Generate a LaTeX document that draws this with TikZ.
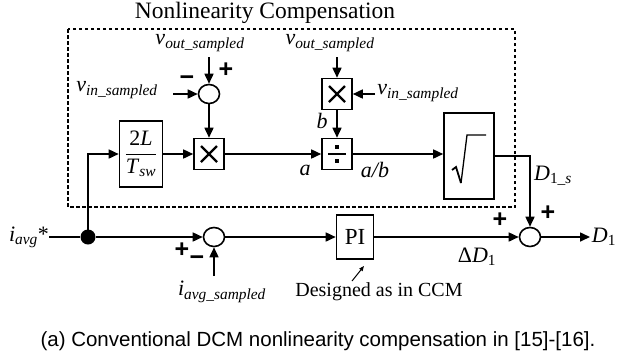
\documentclass[tikz,border=0pt]{standalone}
\usepackage{fontspec}
\setmainfont{Liberation Serif}
\newfontfamily\capfont{Liberation Sans}
\usepackage{amsmath}
\usetikzlibrary{positioning, shapes.geometric, arrows.meta, calc}
\newcommand{\sigsub}[2]{\textit{#1}\textsubscript{\textit{#2}}}
\tikzset{
  >={Triangle[length=10pt,width=9pt]},
  sig/.style={->, line width=1.6pt},
  blk/.style={draw, line width=1.6pt, inner sep=0pt},
  opblk/.style={blk, minimum width=30pt, minimum height=31pt},
  sumnode/.style={draw, ellipse, line width=1.6pt, minimum width=21pt,
                  minimum height=19pt, inner sep=0pt},
  lbl/.style={font=\fontsize{22}{24}\selectfont, inner sep=0pt},
  sgn/.style={font=\capfont\fontsize{25}{25}\selectfont\bfseries, inner sep=0pt},
  mark line/.style={line width=2.2pt},
}
\begin{document}
\begin{tikzpicture}[x=1pt, y=-1pt]
  \useasboundingbox (0,0) rectangle (618,360);
  % compensation frame
  \draw[line width=1.6pt, dash pattern=on 3.5pt off 2.5pt] (68,29) rectangle (515,207);
  \node[lbl, font=\fontsize{23.5}{25}\selectfont, anchor=base] (title) at (265,18) {Nonlinearity Compensation};
  % blocks
  \node[blk, minimum width=43pt, minimum height=66pt, font=\fontsize{22}{24}\selectfont] (gain) at (141,154)
        {$\dfrac{\text{2\textit{L}}}{\text{\textit{T}\textsubscript{\textit{sw}}}}$};
  \node[sumnode] (s1) at (209,94) {};
  \node[opblk] (m1) at (209,154) {};
  \node[opblk] (m2) at (337,94) {};
  \node[opblk] (dv) at (337,154) {};
  \node[blk, minimum width=50pt, minimum height=86pt] (sq) at (469,156) {};
  \node[blk, minimum width=37pt, minimum height=44pt, font=\fontsize{23}{25}\selectfont] (pi) at (355,237) {PI};
  \node[sumnode] (s2) at (214,237) {};
  \node[sumnode] (s3) at (530,237) {};
  \node[circle, fill, minimum size=15pt, inner sep=0pt] (dot) at (88,237) {};
  % operator marks
  \draw[mark line] ($(m1)+(-8,-8)$) -- ($(m1)+(8,8)$) ($(m1)+(-8,8)$) -- ($(m1)+(8,-8)$);
  \draw[mark line] ($(m2)+(-8,-8)$) -- ($(m2)+(8,8)$) ($(m2)+(-8,8)$) -- ($(m2)+(8,-8)$);
  \draw[mark line] ($(dv)+(-9,0)$) -- ($(dv)+(9,0)$);
  \fill ($(dv)+(-2.2,-9)$) rectangle ($(dv)+(2.2,-4.6)$);
  \fill ($(dv)+(-2.2,4.6)$) rectangle ($(dv)+(2.2,9)$);
  \draw[line width=1.8pt] (452,170) -- (456,167) -- (461,183);
  \draw[line width=1.3pt] (461,183) -- (467,135) -- (486,135);
  % labels
  \node[lbl] (vout1) at (200,43) {\sigsub{v}{out\_sampled}};
  \node[lbl] (vin1) at (117,90) {\sigsub{v}{in\_sampled}};
  \node[lbl] (vout2) at (330,43) {\sigsub{v}{out\_sampled}};
  \node[lbl] (vin2) at (418,93) {\sigsub{v}{in\_sampled}};
  \node[lbl] (lb) at (322,121) {\textit{b}};
  \node[lbl] (la) at (305,170) {\textit{a}};
  \node[lbl] (lab) at (375,170) {\textit{a/b}};
  \node[lbl] (ds) at (553,176) {\textit{D}\textsubscript{1\textit{\_s}}};
  \node[lbl] (iref) at (29,237) {\sigsub{i}{avg}*};
  \node[lbl] (isl) at (222,292) {\sigsub{i}{avg\_sampled}};
  \node[lbl] (dd) at (477,257) {Δ\textit{D}\textsubscript{1}};
  \node[lbl] (dout) at (604,237) {\textit{D}\textsubscript{1}};
  \node[lbl, font=\fontsize{20}{22}\selectfont] (note) at (379,292) {Designed as in CCM};
  \node[inner sep=0pt, font=\capfont\fontsize{20.5}{22}\selectfont] (cap) at (318,341)
        {(a) Conventional DCM nonlinearity compensation in [15]-[16].};
  % signs
  \node[sgn] at (226,70) {+};
  \node[sgn] at (187,81) {−};
  \node[sgn] at (182,250) {+};
  \node[sgn] at (197,261) {−};
  \node[sgn] at (500,220) {+};
  \node[sgn] at (548,213) {+};
  % free ends
  \coordinate (vo1) at (209,57);
  \coordinate (vi1) at (173,94);
  \coordinate (vo2) at (337,57);
  \coordinate (vi2) at (375,94);
  \coordinate (isamp) at (214,276);
  \coordinate (dend) at (590,237);
  \coordinate (ntail) at (352,281);
  \coordinate (ntip) at (364,266);
  % connections
  \draw[sig] (vo1) -- (s1.north);
  \draw[sig] (vi1) -- (s1.west);
  \draw[sig] (s1) -- (m1);
  \draw[sig] (dot.center) |- (gain.west);
  \draw[sig] (gain) -- (m1);
  \draw[sig] (m1) -- (dv);
  \draw[sig] (vo2) -- (m2.north);
  \draw[sig] (vi2) -- (m2.east);
  \draw[sig] (m2) -- (dv);
  \draw[sig] (dv.east) -- (dv -| sq.west);
  \draw[sig] (sq.east) -| (s3.north);
  \draw[line width=1.6pt] (iref.east |- s2) -- (dot);
  \draw[sig] (dot) -- (s2.west);
  \draw[sig] (isamp) -- (s2.south);
  \draw[sig] (s2) -- (pi);
  \draw[sig] (pi) -- (s3);
  \draw[sig] (s3) -- (dend);
  \draw[-{Triangle[length=5pt,width=4pt]}, line width=1pt] (ntail) -- (ntip);
\end{tikzpicture}
\end{document}
